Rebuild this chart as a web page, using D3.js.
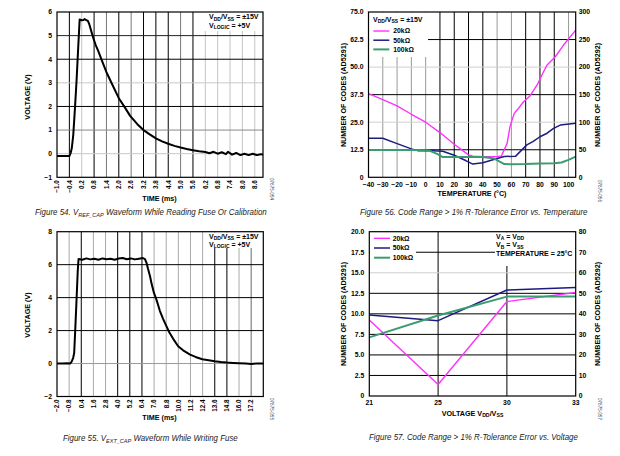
<!DOCTYPE html>
<html><head><meta charset="utf-8">
<script src="https://cdn.jsdelivr.net/npm/d3@7"></script>
<style>
body{margin:0;background:#fff;}
svg{display:block;font-family:"Liberation Sans",Arial,sans-serif;}
</style></head><body>
<svg id="c" width="620" height="456"></svg>
<script>
// ---------- DATA ----------
// Figure 54: VREF_CAP waveform while reading fuse
const fig54Time = [-1.0,-0.7,-0.4,-0.33,-0.28,-0.21,-0.13,-0.05,0.03,0.1,0.2,0.28,0.34,0.42,0.5,0.56,0.66,0.76,0.88,1.0,1.2,1.4,1.7,2.0,2.3,2.55,2.9,3.2,3.5,3.8,4.1,4.4,4.7,5.0,5.3,5.6,5.9,6.2,6.4,6.6,6.8,7.0,7.2,7.3,7.5,7.7,7.9,8.1,8.3,8.5,8.7,8.9,9.0];
const fig54Volt = [-0.1,-0.1,-0.1,0.05,0.25,0.8,1.9,3.1,4.5,5.68,5.65,5.66,5.7,5.66,5.62,5.5,5.2,4.9,4.6,4.35,3.9,3.45,2.9,2.35,1.95,1.6,1.25,1.0,0.82,0.65,0.52,0.42,0.33,0.26,0.2,0.15,0.1,0.07,0.02,0.08,0.0,0.06,-0.02,0.08,-0.04,0.03,-0.06,0.0,-0.06,0.0,-0.06,-0.02,-0.05];
const fig54XTicks = [-1.0,-0.4,0.2,0.8,1.4,2.0,2.6,3.2,3.8,4.4,5.0,5.6,6.2,6.8,7.4,8.0,8.6];
const fig54YTicks = [-1,0,1,2,3,4,5,6];

// Figure 55: VEXT_CAP waveform while writing fuse
const fig55Time = [-2.0,-1.5,-1.0,-0.7,-0.55,-0.4,-0.3,-0.2,-0.1,0.05,0.13,0.5,0.9,1.3,1.7,2.1,2.5,2.9,3.3,3.7,4.1,4.5,4.9,5.3,5.7,6.1,6.5,6.7,6.86,7.0,7.2,7.35,7.58,7.85,8.17,8.5,8.83,9.1,9.49,9.98,10.47,11.16,11.7,12.37,13.0,13.59,14.2,14.8,15.4,16.0,16.7,17.2,17.8,18.4];
const fig55Volt = [0.0,0.0,0.02,0.0,0.12,0.35,0.65,2.0,3.4,5.6,6.34,6.3,6.38,6.32,6.36,6.3,6.38,6.33,6.36,6.3,6.37,6.4,6.33,6.38,6.32,6.36,6.4,6.34,6.1,5.75,5.3,4.85,4.3,3.85,3.2,2.7,2.25,1.9,1.5,1.05,0.8,0.54,0.4,0.26,0.2,0.14,0.09,0.06,0.04,0.02,0.0,-0.03,0.01,0.0];
const fig55XTicks = [-2.0,-0.8,0.4,1.6,2.8,4.0,5.2,6.4,7.6,8.8,10.0,11.2,12.4,13.6,14.8,16.0,17.2];
const fig55YTicks = [-2,0,2,4,6,8];

// Figure 56: code range vs temperature
const seriesNames = ["20kΩ","50kΩ","100kΩ"];
const temp20k = [-40,-30,-20,-10,0,10,20,30,33,40,50,53,57,59,62,64,68.5,73,78,82.5,85,90.7,96.5,105];
const codes20kTemp = [38.0,35.2,32.4,28.6,25.0,20.3,15.0,10.2,9.6,9.4,9.4,9.7,15.4,23.0,29.0,30.5,34.3,36.9,41.9,47.9,51.0,54.7,60.0,66.8];
const temp50k = [-40,-30,-20,-10,-5,5,12,20,28,33,40,50,55,63,70.8,75,80,85,89.5,94.2,105];
const codes50kTemp = [17.7,17.7,15.3,12.9,12.0,12.0,11.8,10.0,7.6,6.0,6.6,8.5,9.4,9.6,14.7,16.2,18.4,20.0,22.2,23.7,24.5];
const temp100k = [-40,-30,-20,-10,0,3,8,12,20,30,40,48,55,60,70,80,90,95,100,105];
const codes100kTemp = [12.4,12.4,12.4,12.4,12.3,12.0,10.6,9.2,9.2,9.2,9.2,8.5,6.0,5.9,6.0,6.3,6.4,6.7,7.9,9.4];
const tempTicks = [-40,-30,-20,-10,0,10,20,30,40,50,60,70,80,90,100];
const codeTicksLeftT = [0,12.5,25.0,37.5,50.0,62.5,75.0];
const codeTicksRightT = [0,50,100,150,200,250,300];

// Figure 57: code range vs voltage
const voltCategories = ["21","25","30","33"];
const codes20kVolt = [9.25,1.4,11.5,12.6];
const codes50kVolt = [9.85,9.17,12.9,13.2];
const codes100kVolt = [7.14,9.8,12.1,12.1];
const codeTicksLeftV = [0,2.5,5.0,7.5,10.0,12.5,15.0,17.5,20.0];
const codeTicksRightV = [0,10,20,30,40,50,60,70,80];

// ---------- DRAWING ----------
const svg = d3.select("#c");
const seriesColors = ["#ff30ff","#1c1c80","#3a9c70"];
const seriesWidths = [1.4,1.5,2.0];
const minus = s => s.replace("-", "\u2212");

function rich(sel, parts, sub) {
  // parts: [text, isSub]
  let down = false;
  parts.forEach(([t, s]) => {
    const ts = sel.append("tspan").text(t);
    if (s && !down) { ts.attr("dy", 1.6).attr("font-size", sub); down = true; }
    else if (s) { ts.attr("font-size", sub); }
    else if (!s && down) { ts.attr("dy", -1.6); down = false; }
  });
  return sel;
}

function fitText(node, x, y, w) {
  const len = node.getComputedTextLength();
  d3.select(node).attr("x", 0).attr("y", 0)
    .attr("transform", `translate(${x},${y}) scale(${w/len},1)`);
}

function panel(o) {
  const g = svg.append("g");
  const {L,R,T,B,x,y} = o;
  // grid
  o.xGrid.forEach(v => {
    const c = o.vColor(v);
    if (!c) return;
    g.append("line").attr("x1", x(v)).attr("x2", x(v)).attr("y1", T).attr("y2", B)
      .attr("stroke", c).attr("stroke-width", 1);
  });
  o.yGrid.forEach(v => {
    const c = o.hColor(v);
    if (!c) return;
    g.append("line").attr("x1", L).attr("x2", R).attr("y1", y(v)).attr("y2", y(v))
      .attr("stroke", c).attr("stroke-width", 1);
  });
  // masks (legend / annotation boxes)
  (o.masks||[]).forEach(m => g.append("rect").attr("x", m[0]).attr("y", m[1])
      .attr("width", m[2]-m[0]).attr("height", m[3]-m[1]).attr("fill", "#fff"));
  // series
  o.series.forEach(s => {
    g.append("path").datum(d3.zip(s.x, s.y))
      .attr("fill", "none").attr("stroke", s.color).attr("stroke-width", s.width)
      .attr("stroke-linejoin", "round")
      .attr("d", d3.line().x(d => x(d[0])).y(d => y(d[1])));
  });
  // frame
  g.append("rect").attr("x", L).attr("y", T).attr("width", R-L).attr("height", B-T)
    .attr("fill", "none").attr("stroke", "#000").attr("stroke-width", 1.2);
  return g;
}

function yLabels(g, ticks, scale, xPos, anchor, fmt) {
  ticks.forEach(v => g.append("text").attr("x", xPos).attr("y", scale(v)).attr("dy", "0.35em")
    .attr("text-anchor", anchor).attr("font-size", 6.8).attr("font-weight", "bold")
    .text(fmt(v)));
}

function rotatedXLabels(g, ticks, scale, yPos) {
  ticks.forEach(v => g.append("text")
    .attr("transform", `translate(${scale(v)+2.3},${yPos}) rotate(-90)`)
    .attr("text-anchor", "end").attr("font-size", 6.3).attr("font-weight", "bold")
    .text(minus(v.toFixed(1))));
}

function vTitle(g, x, yc, txt) {
  g.append("text").attr("transform", `translate(${x},${yc}) rotate(-90)`)
    .attr("text-anchor", "middle").attr("font-size", 7.2).attr("font-weight", "bold").text(txt);
}

function caption(parts, x, y, w) {
  const t = svg.append("text").attr("font-size", 8.6).attr("font-style", "italic")
    .attr("fill", "#222");
  rich(t, parts, 6);
  fitText(t.node(), x, y, w);
}

function idText(x, y, txt) {
  svg.append("text").attr("transform", `translate(${x},${y}) rotate(90)`)
    .attr("font-size", 4.6).attr("fill", "#444").text(txt);
}

function annot(g, lines, x, y0, dyStep) {
  lines.forEach((parts, i) => {
    const t = g.append("text").attr("x", x).attr("y", y0 + i*dyStep)
      .attr("font-size", 7).attr("font-weight", "bold");
    rich(t, parts, 5);
  });
}

// ---- Figure 54 ----
{
  const L=57, R=263, T=12, B=177.3;
  const x = d3.scaleLinear().domain([-1, 9]).range([L, R]);
  const y = d3.scaleLinear().domain([-1, 6]).range([B, T]);
  const dark = new Set(["-0.4","0.8","2.0","3.2","3.8","4.4","5.6"]);
  const mid = new Set(["1.4","2.6","5.0"]);
  const g = panel({L,R,T,B,x,y,
    xGrid: fig54XTicks.slice(1), yGrid: fig54YTicks.slice(1,-1),
    vColor: v => dark.has(v.toFixed(1)) ? "#000" : mid.has(v.toFixed(1)) ? "#777" : "#c4c4c4",
    hColor: v => ({0:"#c8c8c8",1:"#888",2:"#000",3:"#c8c8c8",4:"#000",5:"#222"})[v],
    masks: [[203, T+0.6, R-0.6, 31]],
    series: [{x: fig54Time, y: fig54Volt, color: "#000", width: 2}]
  });
  yLabels(g, fig54YTicks, y, L-5, "end", v => minus(String(v)));
  rotatedXLabels(g, fig54XTicks, x, B+3);
  vTitle(g, 30, 97, "VOLTAGE (V)");
  g.append("text").attr("x", 159.5).attr("y", 200.5).attr("text-anchor", "middle")
    .attr("font-size", 7.2).attr("font-weight", "bold").text("TIME (ms)");
  annot(g, [[["V",0],["DD",1],["/V",0],["SS",1],[" = ±15V",0]],
            [["V",0],["LOGIC",1],[" = +5V",0]]], 209, 19.2, 8.3);
  caption([["Figure 54. V",0],["REF_CAP",1],[" Waveform While Reading Fuse Or Calibration",0]], 35, 215, 232);
  idText(270, 178, "07675-054");
}

// ---- Figure 55 ----
{
  const L=57, R=263.3, T=231.7, B=396.5;
  const x = d3.scaleLinear().domain([-2, 18.4]).range([L, R]);
  const y = d3.scaleLinear().domain([-2, 8]).range([B, T]);
  const dark = new Set(["0.4","4.0","5.2","6.4","13.6","14.8"]);
  const g = panel({L,R,T,B,x,y,
    xGrid: fig55XTicks.slice(1), yGrid: fig55YTicks.slice(1,-1),
    vColor: v => dark.has(v.toFixed(1)) ? "#000" : (v.toFixed(1)==="17.2" ? "#666" : "#aaa"),
    hColor: v => v===0 ? "#999" : "#000",
    masks: [[207, T+0.6, R-0.6, 248]],
    series: [{x: fig55Time, y: fig55Volt, color: "#000", width: 2}]
  });
  yLabels(g, fig55YTicks, y, L-5, "end", v => minus(String(v)));
  rotatedXLabels(g, fig55XTicks, x, B+3);
  vTitle(g, 30, 315, "VOLTAGE (V)");
  g.append("text").attr("x", 159.5).attr("y", 419.5).attr("text-anchor", "middle")
    .attr("font-size", 7.2).attr("font-weight", "bold").text("TIME (ms)");
  annot(g, [[["V",0],["DD",1],["/V",0],["SS",1],[" = ±15V",0]],
            [["V",0],["LOGIC",1],[" = +5V",0]]], 209, 238.5, 8.3);
  caption([["Figure 55. V",0],["EXT_CAP",1],[" Waveform While Writing Fuse",0]], 63, 441, 175);
  idText(270, 398, "07675-055");
}

// ---- Figure 56 ----
{
  const L=368.5, R=575.7, T=12, B=177.3;
  const x = d3.scaleLinear().domain([-40, 105]).range([L, R]);
  const y = d3.scaleLinear().domain([0, 75]).range([B, T]);
  const yR = d3.scaleLinear().domain([0, 300]).range([B, T]);
  const darkV = new Set([10,20,30,40,70,80,90]);
  const g = panel({L,R,T,B,x,y,
    xGrid: tempTicks.slice(1), yGrid: codeTicksLeftT.slice(1,-1),
    vColor: v => darkV.has(v) ? "#000" : "#999",
    hColor: v => (v===12.5||v===37.5||v===62.5) ? "#000" : "#cfcfcf",
    masks: [[L+0.6, T+0.6, 428, 57]],
    series: [
      {x: temp20k, y: codes20kTemp, color: seriesColors[0], width: seriesWidths[0]},
      {x: temp50k, y: codes50kTemp, color: seriesColors[1], width: seriesWidths[1]},
      {x: temp100k, y: codes100kTemp, color: seriesColors[2], width: seriesWidths[2]}
    ]
  });
  yLabels(g, codeTicksLeftT, y, L-5, "end", v => v===0 ? "0" : v.toFixed(1));
  yLabels(g, codeTicksRightT, yR, R+3, "start", v => String(v));
  tempTicks.forEach(v => g.append("text").attr("x", x(v)).attr("y", B+9.5)
    .attr("text-anchor", "middle").attr("font-size", 6.8).attr("font-weight", "bold")
    .text(minus(String(v))));
  vTitle(g, 345.5, 95, "NUMBER OF CODES (AD5291)");
  vTitle(g, 599.5, 95, "NUMBER OF CODES (AD5292)");
  g.append("text").attr("x", 472).attr("y", 196).attr("text-anchor", "middle")
    .attr("font-size", 7.2).attr("font-weight", "bold").text("TEMPERATURE (°C)");
  annot(g, [[["V",0],["DD",1],["/V",0],["SS",1],[" = ±15V",0]]], 373, 21.5, 8);
  seriesNames.forEach((n, i) => {
    const yy = 31 + i*9.2;
    g.append("line").attr("x1", 373.3).attr("x2", 389.3).attr("y1", yy).attr("y2", yy)
      .attr("stroke", seriesColors[i]).attr("stroke-width", seriesWidths[i]);
    g.append("text").attr("x", 393.3).attr("y", yy).attr("dy", "0.35em")
      .attr("font-size", 6.8).attr("font-weight", "bold").text(n);
  });
  caption([["Figure 56. Code Range > 1% R-Tolerance Error vs. Temperature",0]], 360, 215, 228);
  idText(598, 180, "07675-056");
}

// ---- Figure 57 ----
{
  const L=369.3, R=575.7, T=231.7, B=396;
  const x = d3.scalePoint().domain(voltCategories).range([L, R]).padding(0);
  const y = d3.scaleLinear().domain([0, 20]).range([B, T]);
  const yR = d3.scaleLinear().domain([0, 80]).range([B, T]);
  const g = panel({L,R,T,B,x,y,
    xGrid: voltCategories.slice(1,-1), yGrid: codeTicksLeftV.slice(1,-1),
    vColor: v => "#000",
    hColor: v => v===15 ? "#cfcfcf" : "#000",
    masks: [[L+0.6, T+0.6, 416, 262], [495, T+0.6, R-0.6, 266]],
    series: [
      {x: voltCategories, y: codes20kVolt, color: seriesColors[0], width: seriesWidths[0]},
      {x: voltCategories, y: codes50kVolt, color: seriesColors[1], width: seriesWidths[1]},
      {x: voltCategories, y: codes100kVolt, color: seriesColors[2], width: seriesWidths[2]}
    ]
  });
  yLabels(g, codeTicksLeftV, y, L-5, "end", v => v===0 ? "0" : v.toFixed(1));
  yLabels(g, codeTicksRightV, yR, R+3, "start", v => String(v));
  voltCategories.forEach(v => g.append("text").attr("x", x(v)).attr("y", B+8.5)
    .attr("text-anchor", "middle").attr("font-size", 6.8).attr("font-weight", "bold").text(v));
  vTitle(g, 345.5, 314, "NUMBER OF CODES (AD5291)");
  vTitle(g, 599.5, 314, "NUMBER OF CODES (AD5292)");
  const xt = g.append("text").attr("x", 472.5).attr("y", 415.5).attr("text-anchor", "middle")
    .attr("font-size", 7.2).attr("font-weight", "bold");
  rich(xt, [["VOLTAGE V",0],["DD",1],["/V",0],["SS",1]], 5.2);
  seriesNames.forEach((n, i) => {
    const yy = 238.3 + i*9.7;
    g.append("line").attr("x1", 374).attr("x2", 390).attr("y1", yy).attr("y2", yy)
      .attr("stroke", seriesColors[i]).attr("stroke-width", seriesWidths[i]);
    g.append("text").attr("x", 392.7).attr("y", yy).attr("dy", "0.35em")
      .attr("font-size", 6.8).attr("font-weight", "bold").text(n);
  });
  annot(g, [[["V",0],["A",1],[" = V",0],["DD",1]],
            [["V",0],["B",1],[" = V",0],["SS",1]],
            [["TEMPERATURE = 25°C",0]]], 496, 238.5, 8.6);
  caption([["Figure 57. Code Range > 1% R-Tolerance Error vs. Voltage",0]], 369, 440, 209);
  idText(598, 398, "07675-057");
}
</script>
</body></html>
